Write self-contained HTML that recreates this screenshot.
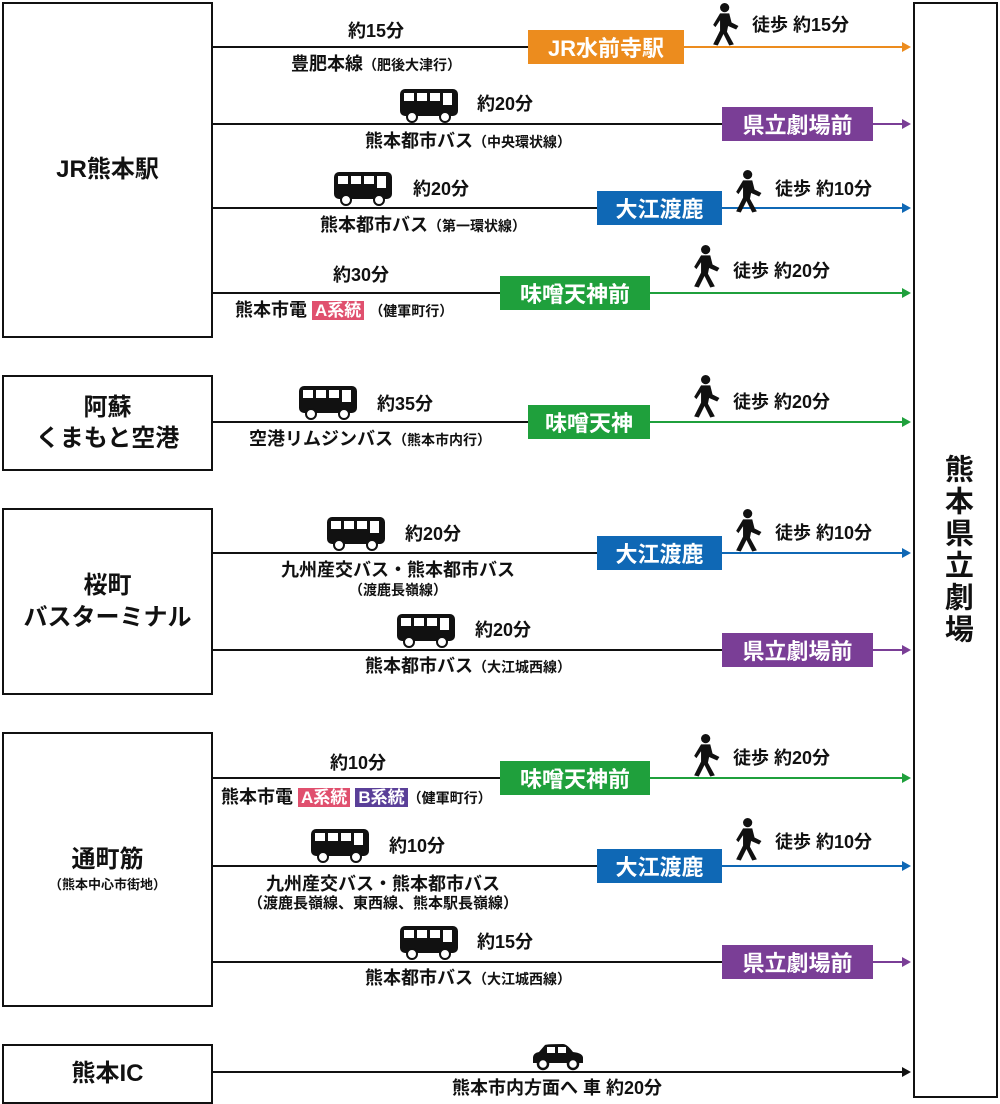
<!DOCTYPE html>
<html><head><meta charset="utf-8"><style>
body{margin:0;width:1000px;height:1100px;background:#fff;position:relative;overflow:hidden;font-family:"Liberation Sans","Noto Sans CJK JP",sans-serif;font-weight:bold;color:#111}
.box{position:absolute;border:2px solid #111;box-sizing:border-box;display:flex;align-items:center;justify-content:center;text-align:center;font-size:24px;line-height:1.3}
.t{position:absolute;font-size:18px;white-space:nowrap;transform:translateX(-50%);line-height:1}
.st{position:absolute;color:#fff;font-size:22px;display:flex;align-items:center;justify-content:center;height:34px;white-space:nowrap}
.tag{color:#fff;padding:0 3px;font-size:17px}
svg{position:absolute;left:0;top:0}
</style></head><body>
<svg width="1000" height="1100">
<defs>
<g id="bus"><rect x="0" y="0" width="58" height="27" rx="5" fill="#111"/><rect x="4" y="4" width="10" height="8" fill="#fff"/><rect x="17" y="4" width="10" height="8" fill="#fff"/><rect x="30" y="4" width="10" height="8" fill="#fff"/><rect x="43" y="4" width="9" height="12" fill="#fff"/><circle cx="12" cy="28" r="5" fill="#fff" stroke="#111" stroke-width="2"/><circle cx="45" cy="28" r="5" fill="#fff" stroke="#111" stroke-width="2"/></g>
<g id="walk" fill="#111" transform="scale(1.15)"><circle cx="11" cy="4" r="4"/><path d="M7 9 L15 9 L17 17 L23 20 L21 23 L14 20 L13 25 L19 36 L15 37 L10 27 L5 37 L1 36 L7 24 L7 15 L3 21 L1 19 Z"/></g>
<g id="car" fill="#111"><path d="M0 14 Q0 9 6 8 L12 1 Q14 0 30 0 Q34 0 40 8 Q50 9 50 14 L50 19 L0 19 Z"/><rect x="14" y="3" width="8" height="6" fill="#fff"/><rect x="25" y="3" width="8" height="6" fill="#fff"/><circle cx="10" cy="20" r="5" fill="#fff" stroke="#111" stroke-width="2.5"/><circle cx="40" cy="20" r="5" fill="#fff" stroke="#111" stroke-width="2.5"/></g>
</defs>
<g stroke-width="2">
<line x1="212" y1="47" x2="528" y2="47" stroke="#111"/><line x1="684" y1="47" x2="904" y2="47" stroke="#ec8c1e"/><path d="M902 42 L911 47 L902 52Z" fill="#ec8c1e"/>
<line x1="212" y1="124" x2="722" y2="124" stroke="#111"/><line x1="873" y1="124" x2="904" y2="124" stroke="#7a3e96"/><path d="M902 119 L911 124 L902 129Z" fill="#7a3e96"/>
<line x1="212" y1="208" x2="597" y2="208" stroke="#111"/><line x1="722" y1="208" x2="904" y2="208" stroke="#0f68b5"/><path d="M902 203 L911 208 L902 213Z" fill="#0f68b5"/>
<line x1="212" y1="293" x2="500" y2="293" stroke="#111"/><line x1="650" y1="293" x2="904" y2="293" stroke="#1fa03c"/><path d="M902 288 L911 293 L902 298Z" fill="#1fa03c"/>
<line x1="212" y1="422" x2="528" y2="422" stroke="#111"/><line x1="650" y1="422" x2="904" y2="422" stroke="#1fa03c"/><path d="M902 417 L911 422 L902 427Z" fill="#1fa03c"/>
<line x1="212" y1="553" x2="597" y2="553" stroke="#111"/><line x1="722" y1="553" x2="904" y2="553" stroke="#0f68b5"/><path d="M902 548 L911 553 L902 558Z" fill="#0f68b5"/>
<line x1="212" y1="650" x2="722" y2="650" stroke="#111"/><line x1="873" y1="650" x2="904" y2="650" stroke="#7a3e96"/><path d="M902 645 L911 650 L902 655Z" fill="#7a3e96"/>
<line x1="212" y1="778" x2="500" y2="778" stroke="#111"/><line x1="650" y1="778" x2="904" y2="778" stroke="#1fa03c"/><path d="M902 773 L911 778 L902 783Z" fill="#1fa03c"/>
<line x1="212" y1="866" x2="597" y2="866" stroke="#111"/><line x1="722" y1="866" x2="904" y2="866" stroke="#0f68b5"/><path d="M902 861 L911 866 L902 871Z" fill="#0f68b5"/>
<line x1="212" y1="962" x2="722" y2="962" stroke="#111"/><line x1="873" y1="962" x2="904" y2="962" stroke="#7a3e96"/><path d="M902 957 L911 962 L902 967Z" fill="#7a3e96"/>
<line x1="212" y1="1072" x2="904" y2="1072" stroke="#111"/><path d="M902 1067 L911 1072 L902 1077Z" fill="#111"/>
</g>
<use href="#bus" x="400" y="89"/><use href="#bus" x="334" y="172"/><use href="#bus" x="299" y="386"/><use href="#bus" x="327" y="517"/><use href="#bus" x="397" y="614"/><use href="#bus" x="311" y="829"/><use href="#bus" x="400" y="926"/>
<use href="#walk" x="712" y="3"/><use href="#walk" x="735" y="170"/><use href="#walk" x="693" y="245"/><use href="#walk" x="693" y="375"/><use href="#walk" x="735" y="509"/><use href="#walk" x="693" y="734"/><use href="#walk" x="735" y="818"/>
<use href="#car" x="533" y="1044"/>
</svg>
<div class="box" style="left:2px;top:2px;width:211px;height:336px">JR熊本駅</div>
<div class="box" style="left:2px;top:375px;width:211px;height:96px">阿蘇<br>くまもと空港</div>
<div class="box" style="left:2px;top:508px;width:211px;height:187px">桜町<br>バスターミナル</div>
<div class="box" style="left:2px;top:732px;width:211px;height:275px"><div>通町筋<div style="font-size:13px;line-height:1.6">（熊本中心市街地）</div></div></div>
<div class="box" style="left:2px;top:1044px;width:211px;height:60px">熊本IC</div>
<div class="box" style="left:913px;top:2px;width:85px;height:1096px;font-size:29px;writing-mode:vertical-rl;letter-spacing:3px">熊本県立劇場</div>

<div class="st" style="left:528px;top:30px;width:156px;background:#ec8c1e">JR水前寺駅</div>
<div class="st" style="left:722px;top:107px;width:151px;background:#7a3e96">県立劇場前</div>
<div class="st" style="left:597px;top:191px;width:125px;background:#0f68b5">大江渡鹿</div>
<div class="st" style="left:500px;top:276px;width:150px;background:#1fa03c">味噌天神前</div>
<div class="st" style="left:528px;top:405px;width:122px;background:#1fa03c">味噌天神</div>
<div class="st" style="left:597px;top:536px;width:125px;background:#0f68b5">大江渡鹿</div>
<div class="st" style="left:722px;top:633px;width:151px;background:#7a3e96">県立劇場前</div>
<div class="st" style="left:500px;top:761px;width:150px;background:#1fa03c">味噌天神前</div>
<div class="st" style="left:597px;top:849px;width:125px;background:#0f68b5">大江渡鹿</div>
<div class="st" style="left:722px;top:945px;width:151px;background:#7a3e96">県立劇場前</div>

<div class="t" style="left:376px;top:22px">約15分</div>
<div class="t" style="left:376px;top:55px">豊肥本線<span style="font-size:14px">（肥後大津行）</span></div>
<div class="t" style="transform:none;left:752px;top:16px">徒歩 約15分</div>
<div class="t" style="left:505px;top:95px">約20分</div>
<div class="t" style="left:468px;top:132px">熊本都市バス<span style="font-size:14px">（中央環状線）</span></div>
<div class="t" style="left:441px;top:180px">約20分</div>
<div class="t" style="left:423px;top:216px">熊本都市バス<span style="font-size:14px">（第一環状線）</span></div>
<div class="t" style="transform:none;left:775px;top:180px">徒歩 約10分</div>
<div class="t" style="left:361px;top:266px">約30分</div>
<div class="t" style="transform:none;left:733px;top:262px">徒歩 約20分</div>
<div class="t" style="transform:none;left:235px;top:301px">熊本市電 <span class="tag" style="background:#e0506e">A系統</span> <span style="font-size:14px">（健軍町行）</span></div>
<div class="t" style="left:405px;top:395px">約35分</div>
<div class="t" style="left:370px;top:430px">空港リムジンバス<span style="font-size:14px">（熊本市内行）</span></div>
<div class="t" style="transform:none;left:733px;top:393px">徒歩 約20分</div>
<div class="t" style="left:433px;top:525px">約20分</div>
<div class="t" style="transform:none;left:775px;top:524px">徒歩 約10分</div>
<div class="t" style="left:398px;top:561px">九州産交バス・熊本都市バス</div>
<div class="t" style="left:398px;top:583px;font-size:14px">（渡鹿長嶺線）</div>
<div class="t" style="left:503px;top:621px">約20分</div>
<div class="t" style="left:468px;top:657px">熊本都市バス<span style="font-size:14px">（大江城西線）</span></div>
<div class="t" style="left:358px;top:754px">約10分</div>
<div class="t" style="transform:none;left:733px;top:749px">徒歩 約20分</div>
<div class="t" style="transform:none;left:221px;top:788px">熊本市電 <span class="tag" style="background:#e0506e">A系統</span> <span class="tag" style="background:#5a3f98">B系統</span><span style="font-size:14px">（健軍町行）</span></div>
<div class="t" style="left:417px;top:837px">約10分</div>
<div class="t" style="transform:none;left:775px;top:833px">徒歩 約10分</div>
<div class="t" style="left:383px;top:875px">九州産交バス・熊本都市バス</div>
<div class="t" style="left:383px;top:896px;font-size:15px">（渡鹿長嶺線、東西線、熊本駅長嶺線）</div>
<div class="t" style="left:505px;top:933px">約15分</div>
<div class="t" style="left:468px;top:969px">熊本都市バス<span style="font-size:14px">（大江城西線）</span></div>
<div class="t" style="left:557px;top:1079px">熊本市内方面へ 車 約20分</div>
</body></html>
